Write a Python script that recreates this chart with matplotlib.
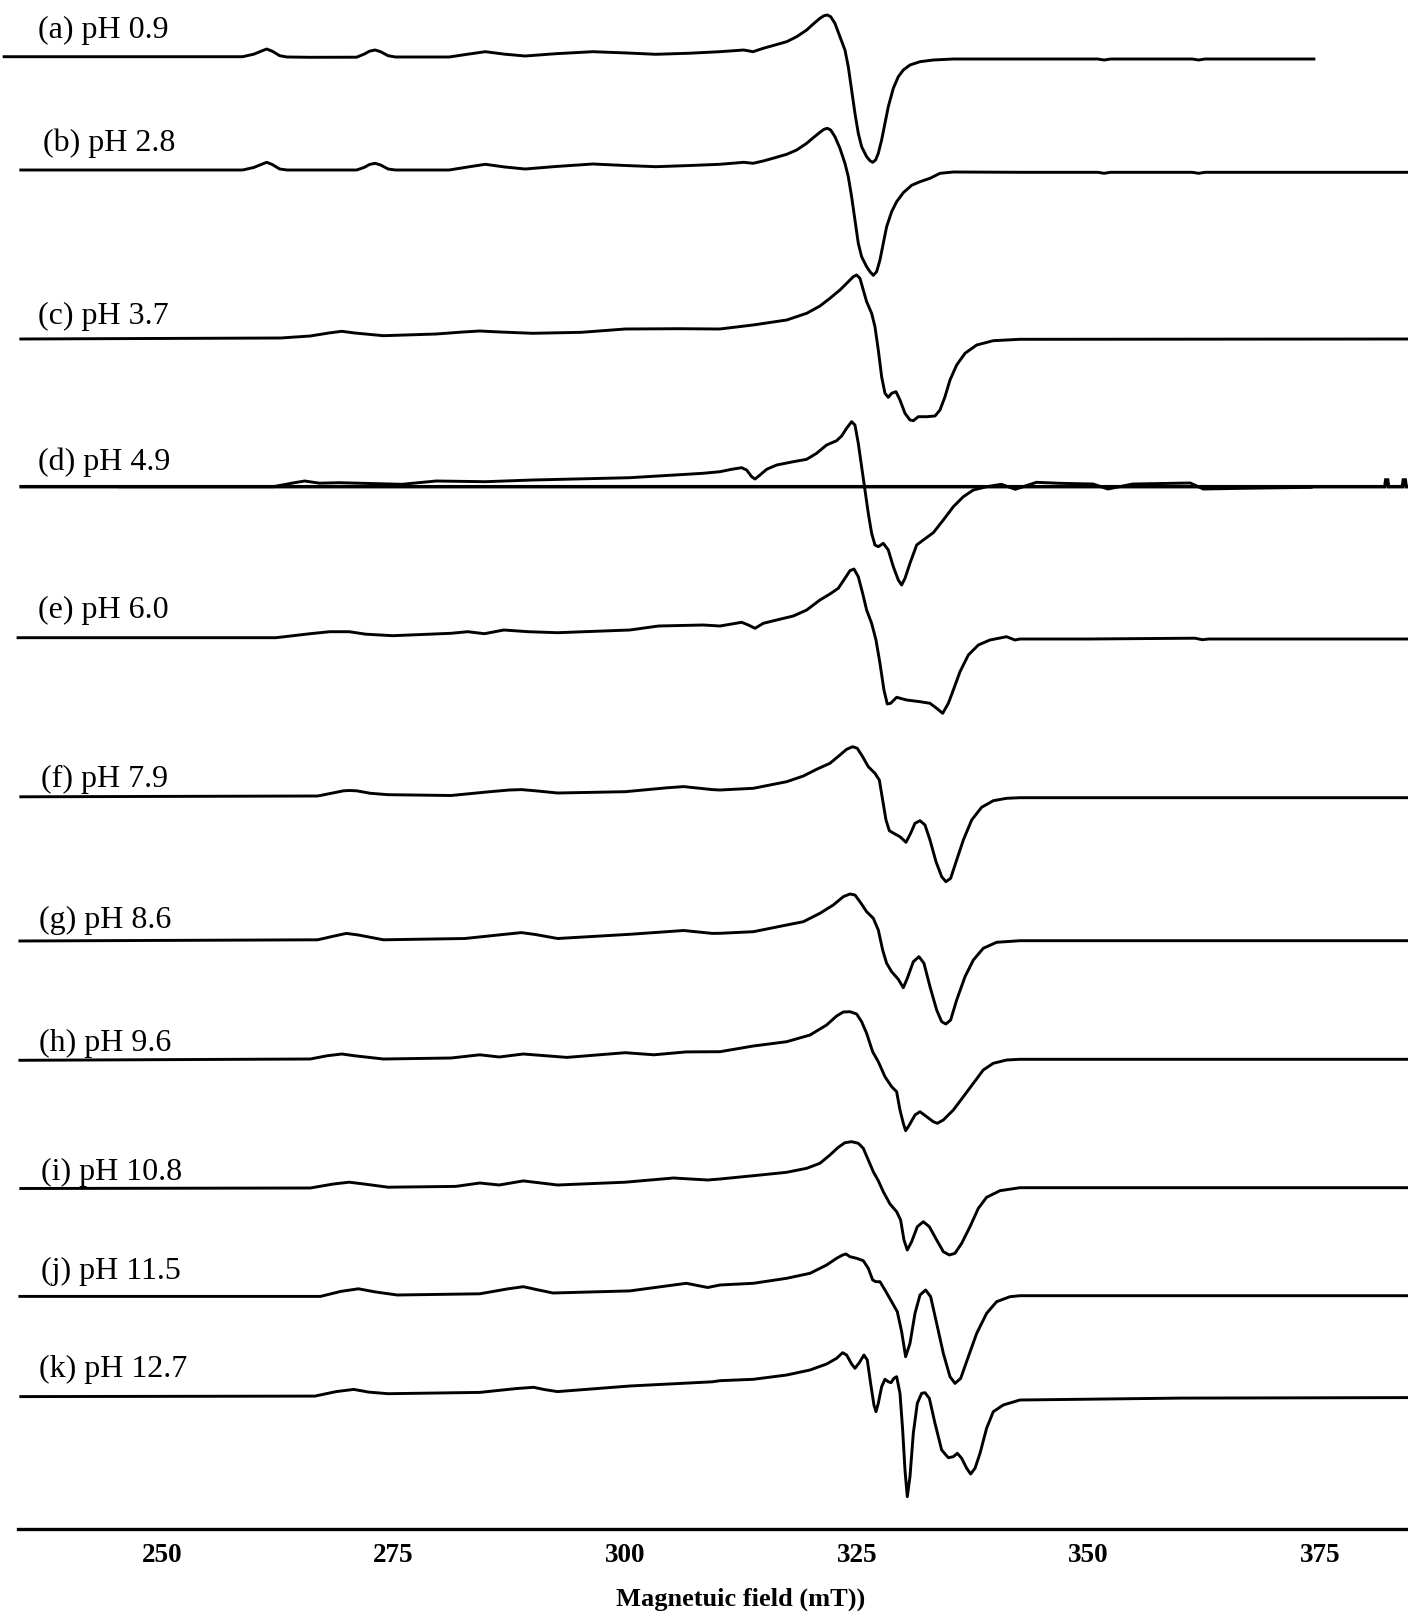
import matplotlib
matplotlib.use("Agg")
import matplotlib.pyplot as plt
import numpy as np

plt.rcParams['font.family'] = ['Liberation Serif', 'DejaVu Serif']

# ---------------- data: (field in mT, intensity in arbitrary units, up = positive) ----------------
labels = ["(a) pH 0.9", "(b) pH 2.8", "(c) pH 3.7", "(d) pH 4.9", "(e) pH 6.0", "(f) pH 7.9",
          "(g) pH 8.6", "(h) pH 9.6", "(i) pH 10.8", "(j) pH 11.5", "(k) pH 12.7"]

a_pts = [(232.8, 0), (258.7, 0), (259.9, 2.5), (260.7, 5.5), (261.3, 7.7), (261.9, 5.5), (262.7, 1.0),
         (263.5, -0.3), (266.0, -0.6), (271.0, -0.5), (271.8, 2.5), (272.4, 5.5), (273.0, 6.7), (273.6, 5.0),
         (274.4, 1.0), (275.2, -0.3), (281.0, -0.3), (283.0, 2.5), (284.9, 5.0), (287.0, 2.5), (289.2, 0.7),
         (292.5, 3.0), (296.5, 5.0), (300.0, 3.8), (303.3, 2.4), (307.0, 3.5), (310.2, 5.0), (312.8, 6.7),
         (313.8, 5.0), (314.9, 8.4), (316.17, 11.7), (317.43, 15.0), (318.51, 20.0), (319.59, 26.7),
         (320.30, 32.7), (321.02, 38.4), (321.46, 41.0), (321.82, 41.7), (322.18, 40.0), (322.64, 33.4),
         (323.18, 20.0), (323.72, 6.7), (324.08, -10.0), (324.44, -33.3), (324.80, -56.6), (325.16, -76.6),
         (325.52, -90.0), (326.06, -100.0), (326.42, -104.0), (326.71, -105.6), (327.03, -103.3),
         (327.32, -96.6), (327.68, -83.3), (328.04, -66.6), (328.40, -50.0), (328.94, -31.6), (329.48, -20.0),
         (330.02, -13.3), (330.74, -8.3), (331.82, -5.0), (333.26, -3.3), (335.42, -2.3), (342.6, -2.3),
         (351.0, -2.3), (351.7, -3.3), (352.4, -2.3), (361.2, -2.3), (361.9, -3.3), (362.6, -2.3), (374.5, -2.3)]

b_pts = [(234.6, 0), (258.7, 0), (259.9, 2.5), (260.7, 5.5), (261.3, 7.7), (261.9, 5.5), (262.7, 1.0),
         (263.5, 0), (271.0, 0), (271.8, 2.5), (272.4, 5.5), (273.0, 6.7), (273.6, 5.0), (274.4, 1.0),
         (275.2, 0), (281.0, 0), (283.0, 3.0), (284.9, 5.7), (287.0, 3.0), (289.2, 1.0), (292.5, 3.5),
         (296.5, 6.0), (300.0, 4.5), (303.3, 3.3), (307.0, 4.5), (310.2, 5.7), (312.8, 7.7), (313.8, 6.7),
         (314.9, 9.0), (316.17, 12.3), (317.43, 15.7), (318.51, 20.0), (319.59, 26.7), (320.30, 32.3),
         (321.02, 37.7), (321.46, 40.7), (321.82, 41.7), (322.18, 40.0), (322.64, 33.3), (323.18, 21.7),
         (323.72, 6.7), (324.08, -6.7), (324.44, -26.7), (324.80, -50.0), (325.16, -73.3), (325.52, -86.7),
         (326.06, -96.7), (326.42, -101.7), (326.78, -105.3), (327.14, -101.7), (327.50, -90.0),
         (327.86, -73.3), (328.22, -56.7), (328.76, -41.7), (329.30, -31.7), (330.02, -22.7), (330.92, -15.3),
         (331.82, -11.7), (332.90, -8.3), (333.98, -3.3), (335.42, -2.0), (342.61, -2.3), (351.0, -2.3),
         (351.7, -3.3), (352.4, -2.3), (361.2, -2.3), (361.9, -3.3), (362.6, -2.3), (384.5, -2.3)]

c_pts = [(234.6, 0), (262.8, 1.0), (266.0, 3.0), (268.0, 6.0), (269.4, 7.7), (270.8, 6.0), (273.9, 3.3),
         (279.6, 5.0), (282.5, 7.0), (284.3, 8.0), (286.5, 7.0), (290.0, 5.7), (295.3, 6.7), (300.0, 10.0),
         (305.8, 10.3), (310.2, 10.0), (313.8, 14.0), (317.43, 19.0), (319.59, 25.7), (321.02, 33.0),
         (322.10, 40.7), (323.18, 49.0), (324.08, 57.3), (324.62, 62.3), (324.98, 64.0), (325.34, 60.7),
         (325.70, 49.0), (326.06, 37.3), (326.60, 25.7), (326.96, 12.3), (327.32, -11.0), (327.68, -37.7),
         (328.04, -54.3), (328.40, -58.3), (328.76, -54.3), (329.23, -52.7), (329.66, -61.0), (330.20, -74.3),
         (330.74, -81.0), (331.10, -81.7), (331.64, -77.7), (332.54, -77.7), (333.44, -77.0), (333.98, -71.0),
         (334.52, -57.7), (335.06, -41.0), (335.78, -26.0), (336.68, -14.3), (337.94, -6.0), (339.73, -1.7),
         (342.61, -0.3), (384.5, 0)]

d_pts = [(245.3, 0), (262.0, 0), (264.0, 3.5), (265.4, 5.7), (267.0, 3.5), (269.1, 4.0), (275.9, 2.4),
         (279.6, 5.7), (284.9, 5.0), (290.0, 6.7), (300.5, 9.0), (308.4, 13.4), (310.23, 15.0), (311.49, 17.4),
         (312.57, 19.0), (313.11, 16.7), (313.65, 10.0), (314.01, 7.7), (314.55, 11.7), (315.27, 17.4),
         (316.35, 21.7), (318.15, 25.0), (319.59, 27.4), (320.66, 33.4), (321.74, 41.7), (322.82, 46.0),
         (323.36, 50.7), (323.90, 58.4), (324.44, 65.0), (324.80, 61.7), (325.16, 43.4), (325.52, 20.0),
         (325.88, -3.3), (326.24, -26.6), (326.60, -46.6), (326.96, -58.3), (327.32, -60.0), (327.86, -56.6),
         (328.40, -63.3), (328.94, -80.0), (329.48, -93.3), (329.84, -98.3), (330.20, -91.7), (330.74, -76.6),
         (331.46, -58.3), (332.18, -53.3), (333.26, -46.0), (334.34, -33.3), (335.42, -20.0), (336.50, -10.0),
         (337.58, -3.3), (339.01, 0), (340.6, 2.4), (342.1, -2.6), (344.4, 4.4), (346.9, 3.4), (350.5, 2.7),
         (352.1, -2.3), (354.8, 2.7), (361.0, 3.7), (362.4, -2.3), (366.7, -1.6), (374.2, -0.6)]
# straight reference line under spectrum (d), with two small spikes at its right end
d_line_pts = [(234.6, 0), (382.0, 0), (382.1, 6.7), (382.3, 6.7), (382.4, 0), (383.9, 0), (384.0, 6.7),
              (384.2, 6.7), (384.3, 0), (384.5, 0)]

e_pts = [(234.3, 0), (262.3, 0), (266.0, 4.0), (268.1, 6.0), (270.2, 6.0), (272.0, 3.5), (274.9, 2.0),
         (281.2, 4.4), (283.0, 6.0), (284.8, 4.0), (286.9, 7.7), (289.5, 6.0), (292.7, 5.0), (300.5, 7.7),
         (303.6, 11.7), (308.4, 12.7), (310.23, 11.7), (311.49, 13.7), (312.57, 15.4), (313.29, 12.7),
         (314.01, 9.4), (314.91, 14.4), (316.35, 17.7), (318.15, 21.7), (319.59, 27.7), (321.02, 37.7),
         (322.10, 43.7), (323.00, 49.4), (323.72, 59.4), (324.26, 67.0), (324.69, 68.7), (325.16, 61.0),
         (325.63, 44.4), (326.06, 27.7), (326.60, 14.4), (327.07, -2.3), (327.50, -25.6), (327.93, -52.3),
         (328.29, -66.3), (328.65, -65.6), (329.30, -59.6), (330.38, -62.3), (331.82, -64.0), (332.90, -65.6),
         (333.62, -70.6), (334.27, -75.6), (334.88, -65.6), (335.42, -52.3), (336.14, -34.0), (337.04, -17.3),
         (338.12, -7.3), (339.37, -2.3), (341.17, 1.0), (342.07, -2.3), (342.61, -1.3), (350.0, -1.3),
         (361.5, -0.5), (362.3, -2.0), (363.0, -1.3), (384.5, -1.3)]

f_pts = [(234.6, 0), (266.8, 0.8), (268.8, 4.5), (269.6, 6.0), (270.2, 6.3), (271.0, 6.0), (272.5, 3.5),
         (274.4, 2.1), (281.2, 1.3), (285.4, 5.1), (287.5, 6.8), (288.8, 7.2), (290.3, 6.0), (292.7, 3.8),
         (300.0, 5.1), (304.5, 9.0), (306.3, 10.2), (309.4, 7.2), (310.23, 6.8), (313.83, 8.5), (317.43, 15.1),
         (319.23, 20.8), (320.66, 27.5), (322.10, 33.5), (323.18, 41.8), (323.90, 47.5), (324.55, 50.1),
         (325.05, 48.5), (325.63, 40.1), (326.24, 30.1), (326.96, 23.5), (327.43, 16.8), (327.79, -3.2),
         (328.15, -23.2), (328.51, -33.9), (329.12, -37.2), (329.66, -39.9), (330.31, -45.5), (330.81, -36.5),
         (331.28, -26.5), (331.82, -23.9), (332.36, -28.2), (332.90, -43.2), (333.55, -64.9), (334.16, -79.9),
         (334.62, -84.9), (335.13, -81.5), (335.78, -63.2), (336.50, -43.2), (337.40, -23.2), (338.47, -10.5),
         (339.73, -3.9), (341.17, -1.5), (342.61, -0.9), (384.5, -0.9)]

g_pts = [(234.5, 0), (266.8, 1.2), (268.6, 5.0), (269.9, 7.6), (271.2, 6.0), (273.9, 1.2), (282.7, 2.5),
         (286.8, 6.5), (288.8, 8.4), (290.3, 6.5), (292.7, 2.5), (300.5, 6.7), (306.3, 10.5), (309.4, 7.6),
         (310.23, 7.7), (313.83, 9.3), (317.43, 16.0), (319.23, 19.3), (321.02, 27.7), (322.46, 36.0),
         (323.54, 44.3), (324.26, 47.0), (324.80, 46.0), (325.34, 39.3), (326.06, 29.3), (326.78, 22.7),
         (327.32, 11.0), (327.79, -9.0), (328.22, -22.3), (328.76, -30.7), (329.48, -38.3), (330.02, -46.7),
         (330.45, -37.3), (331.10, -20.7), (331.71, -15.7), (332.25, -22.3), (332.90, -45.7), (333.62, -69.0),
         (334.16, -80.7), (334.62, -83.0), (335.13, -79.0), (335.78, -59.0), (336.68, -35.7), (337.58, -19.0),
         (338.65, -7.3), (340.09, -1.3), (342.61, 0.3), (384.5, 0.3)]

h_pts = [(234.5, 0), (266.0, 1.3), (267.8, 4.5), (269.4, 6.3), (270.8, 4.5), (273.9, 1.3), (281.2, 2.3),
         (284.3, 5.5), (286.4, 3.3), (289.0, 6.3), (293.7, 2.9), (300.0, 7.6), (303.1, 5.5), (306.6, 8.4),
         (310.23, 8.6), (313.83, 14.3), (317.43, 18.6), (319.95, 25.3), (321.74, 35.3), (322.82, 44.3),
         (323.54, 48.3), (324.26, 48.6), (324.98, 46.3), (325.52, 38.6), (326.06, 27.0), (326.71, 8.6),
         (327.32, -1.4), (328.04, -16.4), (328.76, -26.4), (329.30, -31.4), (329.66, -49.7), (330.02, -63.0),
         (330.27, -70.4), (330.67, -64.7), (331.28, -54.7), (331.82, -51.4), (332.54, -56.4), (333.26, -61.4),
         (333.69, -63.0), (334.34, -59.7), (335.06, -53.0), (335.42, -49.7), (336.50, -36.4), (337.58, -23.0),
         (338.65, -9.7), (339.73, -3.0), (341.17, 0.3), (342.61, 1.0), (384.5, 1.0)]

i_pts = [(234.6, 0), (266.0, 0.5), (268.5, 4.5), (270.2, 6.3), (271.8, 4.5), (274.4, 1.3), (281.7, 2.1),
         (284.3, 5.5), (286.4, 3.5), (289.0, 7.6), (292.7, 3.5), (300.0, 6.3), (305.2, 10.5), (308.9, 8.5),
         (310.23, 9.5), (313.83, 12.8), (317.43, 16.2), (319.59, 20.2), (321.02, 25.2), (322.10, 33.5),
         (323.00, 41.2), (323.72, 45.8), (324.44, 46.8), (325.16, 45.2), (325.70, 40.2), (326.24, 28.5),
         (326.78, 16.8), (327.32, 7.8), (327.86, -3.2), (328.58, -15.5), (329.30, -23.2), (329.73, -31.5),
         (330.09, -51.5), (330.45, -61.5), (330.92, -53.2), (331.53, -38.2), (332.18, -33.2), (332.83, -38.2),
         (333.62, -51.5), (334.34, -63.2), (334.99, -66.5), (335.60, -64.8), (336.32, -54.8), (337.22, -38.2),
         (338.12, -19.8), (339.01, -8.8), (340.45, -2.2), (342.61, 0.8), (384.5, 0.8)]

j_pts = [(234.5, 0), (267.1, 0), (269.3, 5.0), (271.2, 7.6), (273.0, 4.5), (275.4, 1.4), (284.3, 2.6),
         (287.3, 7.5), (289.0, 9.7), (290.6, 6.5), (292.2, 3.4), (300.5, 5.5), (304.5, 10.5), (306.6, 13.1),
         (308.9, 8.9), (310.23, 11.4), (313.83, 13.1), (317.43, 18.1), (319.95, 23.1), (321.74, 31.4),
         (322.82, 38.1), (323.47, 41.4), (323.83, 42.4), (324.26, 39.7), (324.98, 38.1), (325.70, 35.7),
         (326.24, 28.1), (326.71, 16.4), (327.07, 14.7), (327.50, 14.7), (328.04, 6.4), (328.76, -5.3),
         (329.37, -15.3), (329.84, -35.3), (330.27, -60.3), (330.74, -47.0), (331.28, -17.0), (331.82, 1.4),
         (332.43, 6.4), (332.97, -0.3), (333.62, -27.0), (334.34, -57.0), (335.06, -80.3), (335.60, -87.0),
         (336.21, -82.0), (337.04, -60.3), (337.94, -37.0), (339.01, -17.0), (340.09, -5.3), (341.53, -0.3),
         (342.61, 0.7), (384.5, 0.7)]

k_pts = [(234.6, 0), (266.5, 0.5), (268.8, 5.0), (270.7, 7.2), (272.3, 4.5), (274.4, 2.9), (284.3, 4.2),
         (288.2, 8.0), (290.1, 9.3), (291.3, 7.0), (292.7, 5.0), (300.5, 10.6), (309.4, 14.8), (310.23, 15.9),
         (313.83, 17.3), (317.43, 21.6), (319.95, 26.6), (321.74, 32.6), (322.82, 38.3), (323.47, 43.9),
         (323.90, 41.6), (324.44, 32.6), (324.80, 28.3), (325.27, 33.9), (325.77, 41.6), (326.13, 36.6),
         (326.49, 13.3), (326.85, -8.4), (327.07, -15.1), (327.32, -6.7), (327.68, 9.9), (328.04, 17.3),
         (328.40, 14.9), (328.69, 13.9), (329.01, 18.3), (329.30, 19.9), (329.66, 3.3), (329.95, -33.4),
         (330.20, -73.4), (330.45, -100.1), (330.74, -80.1), (331.10, -36.7), (331.53, -6.7), (332.00, 3.3),
         (332.36, 3.9), (332.83, -1.7), (333.44, -26.7), (334.16, -53.4), (334.88, -61.1), (335.42, -60.1),
         (335.85, -56.7), (336.32, -61.7), (336.86, -71.7), (337.29, -77.4), (337.76, -71.7), (338.30, -56.7),
         (339.01, -31.7), (339.73, -15.1), (340.81, -8.4), (342.61, -3.4), (360.0, -1.5), (384.5, -1.0)]

tick_values = [250, 275, 300, 325, 350, 375]
x_label = "Magnetuic field (mT))"

# ---------------- layout (stack offsets, label placement) ----------------
offsets = [56.7, 170.0, 339.0, 486.7, 637.7, 796.8, 941.0, 1060.3, 1188.5, 1296.4, 1396.6]
label_x = [236.6, 237.1, 236.6, 236.6, 236.6, 236.9, 236.7, 236.7, 236.9, 236.9, 236.7]
label_y = [30.8, 143.5, 316.0, 462.0, 610.0, 779.0, 920.0, 1043.4, 1172.4, 1271.8, 1369.0]

traces = [a_pts, b_pts, c_pts, d_pts, e_pts, f_pts, g_pts, h_pts, i_pts, j_pts, k_pts]

W, H = 1408, 1611
axis_px = 1529
fig = plt.figure(figsize=(W / 100, H / 100), dpi=100)
ax = fig.add_axes([0, 1 - axis_px / H, 1, axis_px / H])
ax.set_xlim(232.51, 384.5)
ax.set_ylim(-axis_px, 0)

for pts, off in zip(traces, offsets):
    fld, val = np.asarray(pts, dtype=float).T
    ax.plot(fld, val - off, color='black', lw=2.1, solid_joinstyle='round', solid_capstyle='butt')
fld, val = np.asarray(d_line_pts, dtype=float).T
ax.plot(fld, val - offsets[3], color='black', lw=2.5, solid_joinstyle='miter', solid_capstyle='butt')

for lab, lx, ly in zip(labels, label_x, label_y):
    ax.text(lx, -ly, lab, fontsize=23, ha='left', va='center', color='black')

for s in ['top', 'left', 'right']:
    ax.spines[s].set_visible(False)
ax.spines['bottom'].set_linewidth(2.4)
ax.spines['bottom'].set_bounds(234.5, 384.5)
ax.set_yticks([])
ax.set_xticks(tick_values)
ax.set_xticklabels([str(t) for t in tick_values], fontsize=19.5, fontweight='bold')
ax.tick_params(axis='x', length=0, pad=10)
ax.set_xlabel(x_label, fontsize=19, fontweight='bold')
ax.xaxis.set_label_coords(741 / W, -(1587.5 - axis_px) / axis_px)

fig.savefig('out.png', dpi=100)
